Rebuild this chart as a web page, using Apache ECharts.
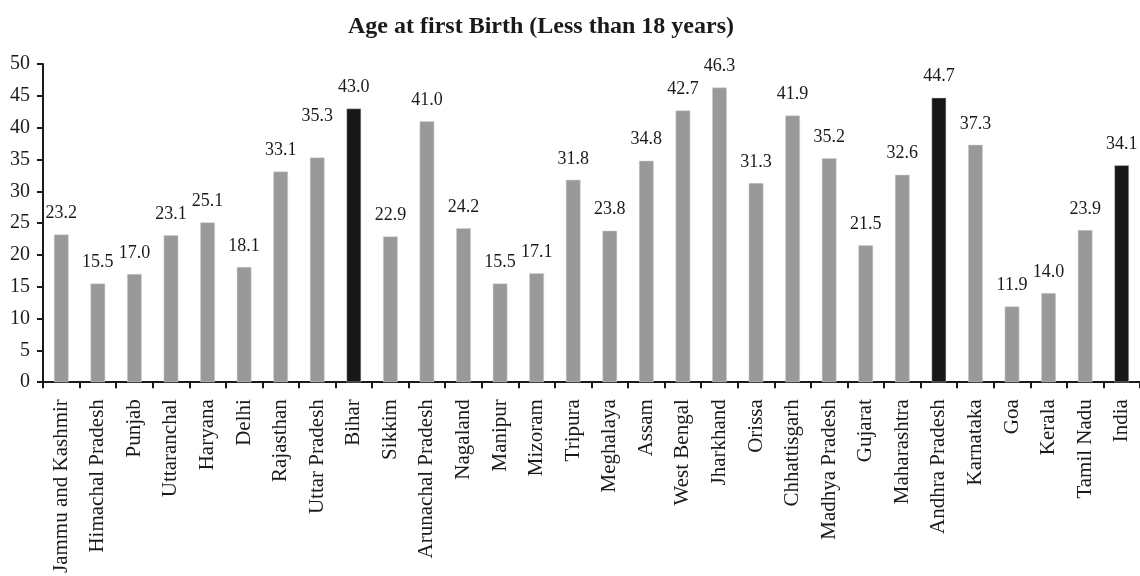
<!DOCTYPE html>
<html>
<head>
<meta charset="utf-8">
<script src="https://cdn.jsdelivr.net/npm/echarts@6/dist/echarts.min.js"></script>
<style>
html,body{margin:0;padding:0;background:#fff;}
#chart{width:1140px;height:576px;}
</style>
</head>
<body>
<div id="chart"></div>
<script>
const titleText = 'Age at first Birth (Less than 18 years)';
const categories = ['Jammu and Kashmir','Himachal Pradesh','Punjab','Uttaranchal','Haryana','Delhi','Rajasthan','Uttar Pradesh','Bihar','Sikkim','Arunachal Pradesh','Nagaland','Manipur','Mizoram','Tripura','Meghalaya','Assam','West Bengal','Jharkhand','Orissa','Chhattisgarh','Madhya Pradesh','Gujarat','Maharashtra','Andhra Pradesh','Karnataka','Goa','Kerala','Tamil Nadu','India'];
const values = [23.2,15.5,17.0,23.1,25.1,18.1,33.1,35.3,43.0,22.9,41.0,24.2,15.5,17.1,31.8,23.8,34.8,42.7,46.3,31.3,41.9,35.2,21.5,32.6,44.7,37.3,11.9,14.0,23.9,34.1];
const highlighted = ['Bihar','Andhra Pradesh','India'];
const yTicks = [0,5,10,15,20,25,30,35,40,45,50];

const FONT = '"Liberation Serif","DejaVu Serif",serif';
const TEXT = '#1a1a1a';

const chart = echarts.init(document.getElementById('chart'), null, {renderer:'canvas'});
const data = values.map((v, i) => {
  const item = {
    value: v,
    itemStyle: { color: highlighted.includes(categories[i]) ? '#171717' : '#999999' }
  };
  if (categories[i] === 'Uttar Pradesh') {
    item.label = { offset: [0, -20] };
  }
  return item;
});

chart.setOption({
  animation: false,
  backgroundColor: '#ffffff',
  title: {
    text: titleText,
    left: 536,
    textAlign: 'center',
    top: 10,
    textStyle: { fontFamily: FONT, fontWeight: 'bold', fontSize: 24, color: TEXT }
  },
  grid: { left: 43, right: -2, top: 64, bottom: 192, containLabel: false },
  xAxis: {
    type: 'category',
    data: categories,
    axisLine: { show: true, lineStyle: { color: TEXT, width: 2 } },
    axisTick: { show: true, length: 6, lineStyle: { color: TEXT, width: 2 } },
    axisLabel: {
      rotate: 90, interval: 0, margin: 17,
      fontFamily: FONT, fontSize: 21, color: TEXT
    },
    splitLine: { show: false }
  },
  yAxis: {
    type: 'value',
    min: yTicks[0], max: yTicks[yTicks.length - 1], interval: 5,
    axisLine: { show: true, lineStyle: { color: TEXT, width: 2 } },
    axisTick: { show: true, length: 6, lineStyle: { color: TEXT, width: 2 } },
    axisLabel: { margin: 13, fontFamily: FONT, fontSize: 20, color: TEXT },
    splitLine: { show: false }
  },
  series: [{
    type: 'bar',
    data: data,
    barWidth: '40%',
    itemStyle: { borderColor: '#d0d0d0', borderWidth: 0.5 },
    label: {
      show: true,
      position: 'top',
      distance: 12,
      formatter: p => p.value.toFixed(1),
      fontFamily: FONT, fontSize: 18, color: TEXT
    }
  }]
});
</script>
</body>
</html>
